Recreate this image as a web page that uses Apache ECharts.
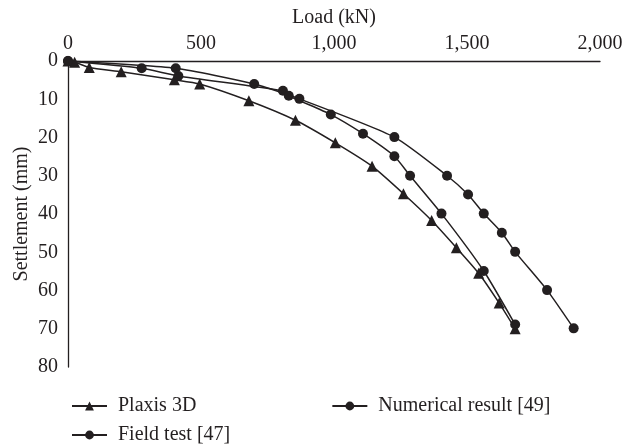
<!DOCTYPE html>
<html>
<head>
    <meta charset="utf-8">
    <title>Load - settlement</title>
    <script src="https://cdn.jsdelivr.net/npm/echarts@6/dist/echarts.min.js"></script>
    <style>
        html, body { margin: 0; padding: 0; background: #fff; }
        #chart { width: 630px; height: 445px; }
    </style>
</head>
<body>
    <div id="chart"></div>
    <script>
        // load (kN), settlement (mm)
        var plaxisLoad = [0, 25, 80, 200, 400, 495, 680, 855, 1005, 1143, 1261, 1367, 1460, 1544, 1621, 1681];
        var plaxisSettle = [0, 0.3, 1.7, 2.8, 4.9, 6.0, 10.4, 15.5, 21.4, 27.5, 34.7, 41.7, 48.8, 55.5, 63.3, 70];

        var fieldLoad = [0, 277, 415, 808, 830, 988, 1109, 1227, 1286, 1404, 1563, 1681];
        var fieldSettle = [0, 1.9, 3.9, 7.8, 9.1, 14, 19, 24.9, 30, 39.9, 54.9, 68.9];

        var numLoad = [0, 405, 700, 870, 1227, 1425, 1504, 1563, 1631, 1681, 1801, 1901];
        var numSettle = [0, 1.9, 6.0, 9.9, 19.9, 30, 34.9, 39.9, 44.9, 49.9, 59.9, 69.9];

        var xTicks = [0, 500, 1000, 1500, 2000];
        var yTicks = [0, 10, 20, 30, 40, 50, 60, 70, 80];

        function pairs(xs, ys) {
            return xs.map(function (x, i) { return [x, ys[i]]; });
        }

        var ink = '#231f20';
        var font = '"Liberation Serif", "DejaVu Serif", serif';
        var fs = 20;

        var chart = echarts.init(document.getElementById('chart'));

        var option = {
            animation: false,
            textStyle: { fontFamily: font, color: ink },
            grid: { left: 68, right: 30, top: 61, bottom: 78, outerBoundsMode: 'none', containLabel: false },
            xAxis: {
                type: 'value',
                position: 'top',
                min: xTicks[0],
                max: xTicks[xTicks.length - 1],
                interval: 500,
                name: 'Load (kN)',
                nameLocation: 'middle',
                nameGap: 33,
                nameTextStyle: { fontSize: fs, color: ink, fontFamily: font },
                axisLine: { lineStyle: { color: ink, width: 1.3 } },
                axisTick: { show: false },
                splitLine: { show: false },
                axisLabel: {
                    fontSize: fs, color: ink, fontFamily: font, margin: 7,
                    formatter: function (v) { return v.toLocaleString('en-US'); }
                }
            },
            yAxis: {
                type: 'value',
                inverse: true,
                min: yTicks[0],
                max: yTicks[yTicks.length - 1],
                interval: 10,
                name: 'Settlement (mm)',
                nameLocation: 'middle',
                nameGap: 36,
                nameRotate: 90,
                nameMoveOverlap: false,
                nameTextStyle: { fontSize: fs, color: ink, fontFamily: font },
                axisLine: { onZero: false, lineStyle: { color: ink, width: 1.3 } },
                axisTick: { show: false },
                splitLine: { show: false },
                axisLabel: { fontSize: fs, color: ink, fontFamily: font, margin: 10 }
            },
            legend: [{
                left: 66,
                top: 391,
                itemWidth: 35,
                itemHeight: 11,
                itemGap: 135,
                textStyle: { fontSize: fs, color: ink, fontFamily: font, padding: [0, 0, 0, 6] },
                data: ['Plaxis 3D', 'Numerical result [49]']
            }, {
                left: 66,
                top: 420,
                itemWidth: 35,
                itemHeight: 11,
                textStyle: { fontSize: fs, color: ink, fontFamily: font, padding: [0, 0, 0, 6] },
                data: ['Field test [47]']
            }],
            series: [{
                name: 'Plaxis 3D',
                type: 'line',
                smooth: 0.2,
                symbol: 'triangle',
                symbolSize: 11,
                itemStyle: { color: ink },
                lineStyle: { color: ink, width: 1.5 },
                data: pairs(plaxisLoad, plaxisSettle)
            }, {
                name: 'Field test [47]',
                type: 'line',
                smooth: 0.2,
                symbol: 'circle',
                symbolSize: 10,
                itemStyle: { color: ink },
                lineStyle: { color: ink, width: 1.5 },
                data: pairs(fieldLoad, fieldSettle)
            }, {
                name: 'Numerical result [49]',
                type: 'line',
                smooth: 0.2,
                symbol: 'circle',
                symbolSize: 10,
                itemStyle: { color: ink },
                lineStyle: { color: ink, width: 1.5 },
                data: pairs(numLoad, numSettle)
            }]
        };

        chart.setOption(option);
    </script>
</body>
</html>
